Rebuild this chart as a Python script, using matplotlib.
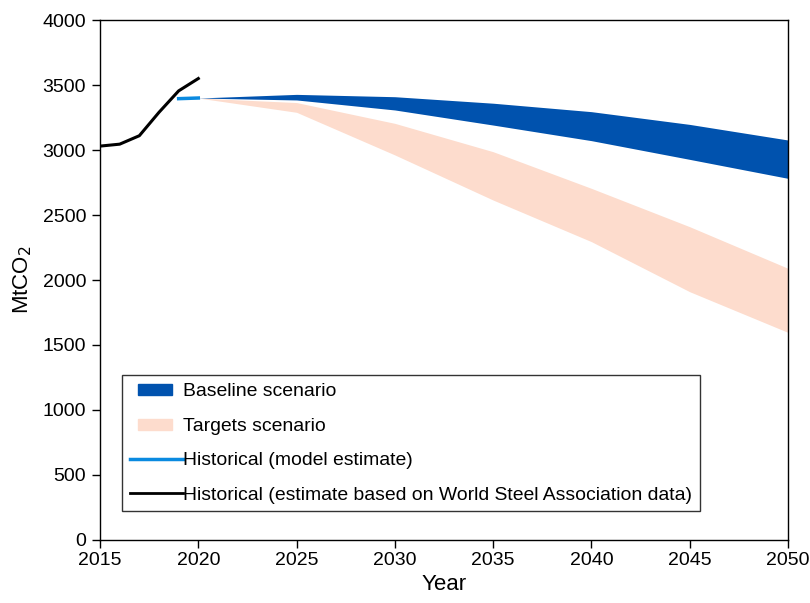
import matplotlib
matplotlib.use("Agg")
import matplotlib.pyplot as plt
from matplotlib.patches import Patch, Rectangle
from matplotlib.lines import Line2D
from matplotlib.legend_handler import HandlerPatch

plt.rcParams['font.family'] = ['Liberation Sans', 'DejaVu Sans']

# historical emissions (World Steel Association based estimate)
hist_years = [2015, 2016, 2017, 2018, 2019, 2020]
hist_values = [3030, 3045, 3110, 3290, 3455, 3550]

# model estimate of the historical period
model_years = [2019, 2020]
model_values = [3395, 3400]

scen_years = [2020, 2025, 2030, 2035, 2040, 2045, 2050]
baseline_high = [3400, 3428, 3410, 3360, 3295, 3197, 3077]
baseline_low = [3400, 3385, 3308, 3192, 3072, 2928, 2782]
targets_high = [3400, 3365, 3205, 2987, 2705, 2410, 2090]
targets_low = [3400, 3290, 2962, 2615, 2295, 1910, 1597]

blue = '#0052ae'
pink = '#fddccd'
light_blue = '#0a8ae0'


def small_box(legend, orig_handle, xdescent, ydescent, width, height, fontsize):
    # narrow, flat swatch centred in the handle area
    return Rectangle((-xdescent + 0.15 * width, -ydescent + height / 2 - 4),
                     0.65 * width, 8)


fig = plt.figure(figsize=(8.1, 6.03), dpi=100)
ax = fig.add_axes([0.1235, 0.1045, 0.8493, 0.8623])

ax.fill_between(scen_years, targets_low, targets_high, color=pink, lw=0)
ax.fill_between(scen_years, baseline_low, baseline_high, color=blue, lw=0)
ax.plot(model_years, model_values, color=light_blue, lw=2.5)
ax.plot(hist_years, hist_values, color='black', lw=2.2)

ax.set_xlim(2015, 2050)
ax.set_ylim(0, 4000)
ax.set_xticks(range(2015, 2051, 5))
ax.set_yticks(range(0, 4001, 500))
ax.tick_params(labelsize=14, direction='out', length=6, width=1)
ax.tick_params(axis='x', pad=3)
ax.tick_params(axis='y', pad=4)
ax.set_xlabel('Year', fontsize=16, labelpad=3)
ax.set_ylabel('MtCO$_2$', fontsize=16, labelpad=6)
for s in ax.spines.values():
    s.set_linewidth(1.0)

handles = [
    Patch(color=blue, label='Baseline scenario'),
    Patch(color=pink, label='Targets scenario'),
    Line2D([], [], color=light_blue, lw=2.5, label='Historical (model estimate)'),
    Line2D([], [], color='black', lw=2, label='Historical (estimate based on World Steel Association data)'),
]
leg = ax.legend(handles=handles, loc='upper left', bbox_to_anchor=(0.032, 0.317),
                fontsize=13.95, frameon=True, fancybox=False, edgecolor='black',
                handlelength=2.75, handleheight=0.7, handletextpad=0.0,
                labelspacing=0.87, borderpad=0.4, borderaxespad=0,
                handler_map={Patch: HandlerPatch(patch_func=small_box)})
leg.get_frame().set_linewidth(1.0)

fig.savefig('out.png', dpi=100)
